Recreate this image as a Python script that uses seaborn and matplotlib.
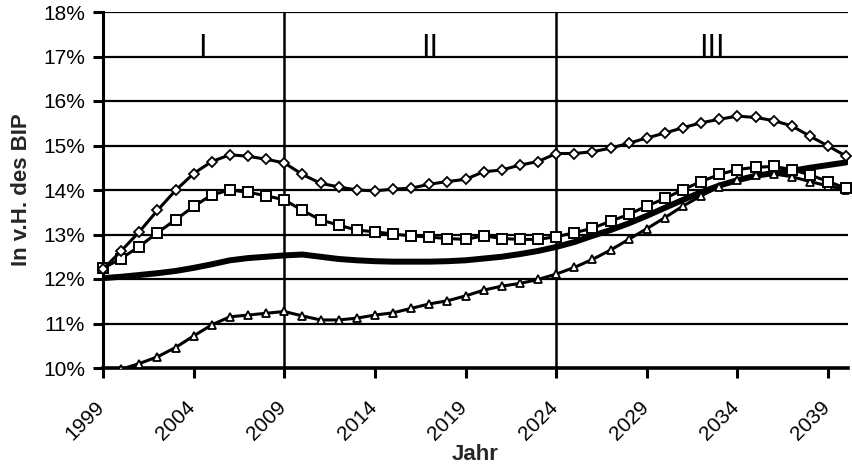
import numpy as np
import pandas as pd
import matplotlib
matplotlib.use("Agg")
import matplotlib.pyplot as plt
import matplotlib.transforms as mtransforms
import seaborn as sns
from matplotlib.ticker import FuncFormatter, MultipleLocator

# Data (percent of GDP), years 1999-2040
years = list(range(1999, 2041))

diamonds = [12.22, 12.63, 13.06, 13.54, 13.99, 14.37, 14.64, 14.79, 14.76, 14.69,
            14.61, 14.35, 14.15, 14.07, 14.00, 13.98, 14.02, 14.04, 14.13, 14.19,
            14.24, 14.41, 14.45, 14.56, 14.64, 14.82, 14.82, 14.86, 14.94, 15.05,
            15.17, 15.28, 15.40, 15.51, 15.59, 15.66, 15.63, 15.56, 15.44, 15.21,
            14.99, 14.76]

squares = [12.24, 12.46, 12.73, 13.04, 13.33, 13.63, 13.89, 14.00, 13.95, 13.87,
           13.78, 13.54, 13.33, 13.21, 13.10, 13.06, 13.01, 12.97, 12.94, 12.91,
           12.89, 12.97, 12.91, 12.89, 12.89, 12.95, 13.04, 13.14, 13.30, 13.45,
           13.64, 13.81, 14.01, 14.19, 14.35, 14.46, 14.51, 14.53, 14.46, 14.34,
           14.19, 14.04]

triangles = [9.80, 9.97, 10.10, 10.25, 10.46, 10.72, 10.97, 11.15, 11.19, 11.23,
             11.27, 11.17, 11.08, 11.08, 11.12, 11.19, 11.24, 11.34, 11.44, 11.51,
             11.62, 11.75, 11.84, 11.90, 11.99, 12.11, 12.26, 12.44, 12.65, 12.89,
             13.13, 13.38, 13.64, 13.87, 14.07, 14.22, 14.34, 14.36, 14.30, 14.19,
             14.09, 14.01]

thick = [12.02, 12.05, 12.09, 12.13, 12.18, 12.25, 12.33, 12.42, 12.47, 12.50,
         12.53, 12.55, 12.50, 12.45, 12.42, 12.40, 12.39, 12.39, 12.39, 12.40,
         12.42, 12.46, 12.50, 12.56, 12.63, 12.72, 12.83, 12.97, 13.10, 13.25,
         13.42, 13.60, 13.78, 13.95, 14.10, 14.22, 14.32, 14.38, 14.43, 14.50,
         14.56, 14.62]

tick_years = [1999, 2004, 2009, 2014, 2019, 2024, 2029, 2034, 2039]
phase_labels = ["I", "II", "III"]
phase_x = [2004.5, 2017.0, 2032.6]
phase_bounds = [2009, 2024]

df = pd.DataFrame({"Jahr": years, "diamonds": diamonds, "squares": squares,
                   "triangles": triangles, "thick": thick})

sns.set_style("white")
plt.rcParams["font.family"] = ["Liberation Sans", "DejaVu Sans"]

fig = plt.figure(figsize=(8.52, 4.68), dpi=100)
ax = fig.add_axes([103 / 852, 100 / 468, 745 / 852, 356 / 468])

# grid lines and phase separators
for v in range(11, 19):
    ax.axhline(v, color="black", lw=1.6, zorder=1)
for b in phase_bounds:
    ax.axvline(b, color="black", lw=1.8, zorder=1)

sns.lineplot(data=df, x="Jahr", y="thick", ax=ax, color="black", lw=4.3,
             zorder=3)
sns.lineplot(data=df, x="Jahr", y="triangles", ax=ax, color="black", lw=2.2,
             marker="^", markersize=5.2, markerfacecolor="white",
             markeredgecolor="black", markeredgewidth=1.3, zorder=4)
sns.lineplot(data=df, x="Jahr", y="squares", ax=ax, color="black", lw=2.2,
             marker="s", markersize=6.5, markerfacecolor="white",
             markeredgecolor="black", markeredgewidth=1.4, zorder=5,
             clip_on=False)
sns.lineplot(data=df, x="Jahr", y="diamonds", ax=ax, color="black", lw=2.2,
             marker="D", markersize=5.4, markerfacecolor="white",
             markeredgecolor="black", markeredgewidth=1.3, zorder=6,
             clip_on=False)

for lab, xp in zip(phase_labels, phase_x):
    ax.text(xp, 17.0, lab, ha="center", va="baseline", fontsize=22,
            color="black", zorder=7)

ax.set_xlim(1999, 2040.1)
ax.set_ylim(10, 18)
ax.set_xticks(tick_years)
ax.set_xticklabels([str(y) for y in tick_years])
ax.yaxis.set_major_locator(MultipleLocator(1))
ax.yaxis.set_major_formatter(FuncFormatter(lambda v, p: f"{v:.0f}%"))

for s in ["top", "right"]:
    ax.spines[s].set_visible(False)
ax.spines["left"].set_linewidth(2.2)
ax.spines["bottom"].set_linewidth(2.6)
ax.spines["left"].set_color("black")
ax.spines["bottom"].set_color("black")

ax.tick_params(axis="both", direction="out", length=7, width=2.2,
               color="black", labelsize=15, labelcolor="black", left=True,
               bottom=True)
ax.tick_params(axis="y", pad=6)
ax.tick_params(axis="x", pad=14)
shift = mtransforms.ScaledTranslation(-8 / 100, 0, fig.dpi_scale_trans)
for lbl in ax.get_xticklabels():
    lbl.set_rotation(45)
    lbl.set_ha("right")
    lbl.set_va("top")
    lbl.set_rotation_mode("anchor")
    lbl.set_transform(lbl.get_transform() + shift)

ax.set_xlabel("Jahr", fontsize=16, fontweight="bold", labelpad=0)
ax.set_ylabel("In v.H. des BIP", fontsize=16, fontweight="bold", labelpad=8)

fig.savefig("out.png", dpi=100, facecolor="white")
